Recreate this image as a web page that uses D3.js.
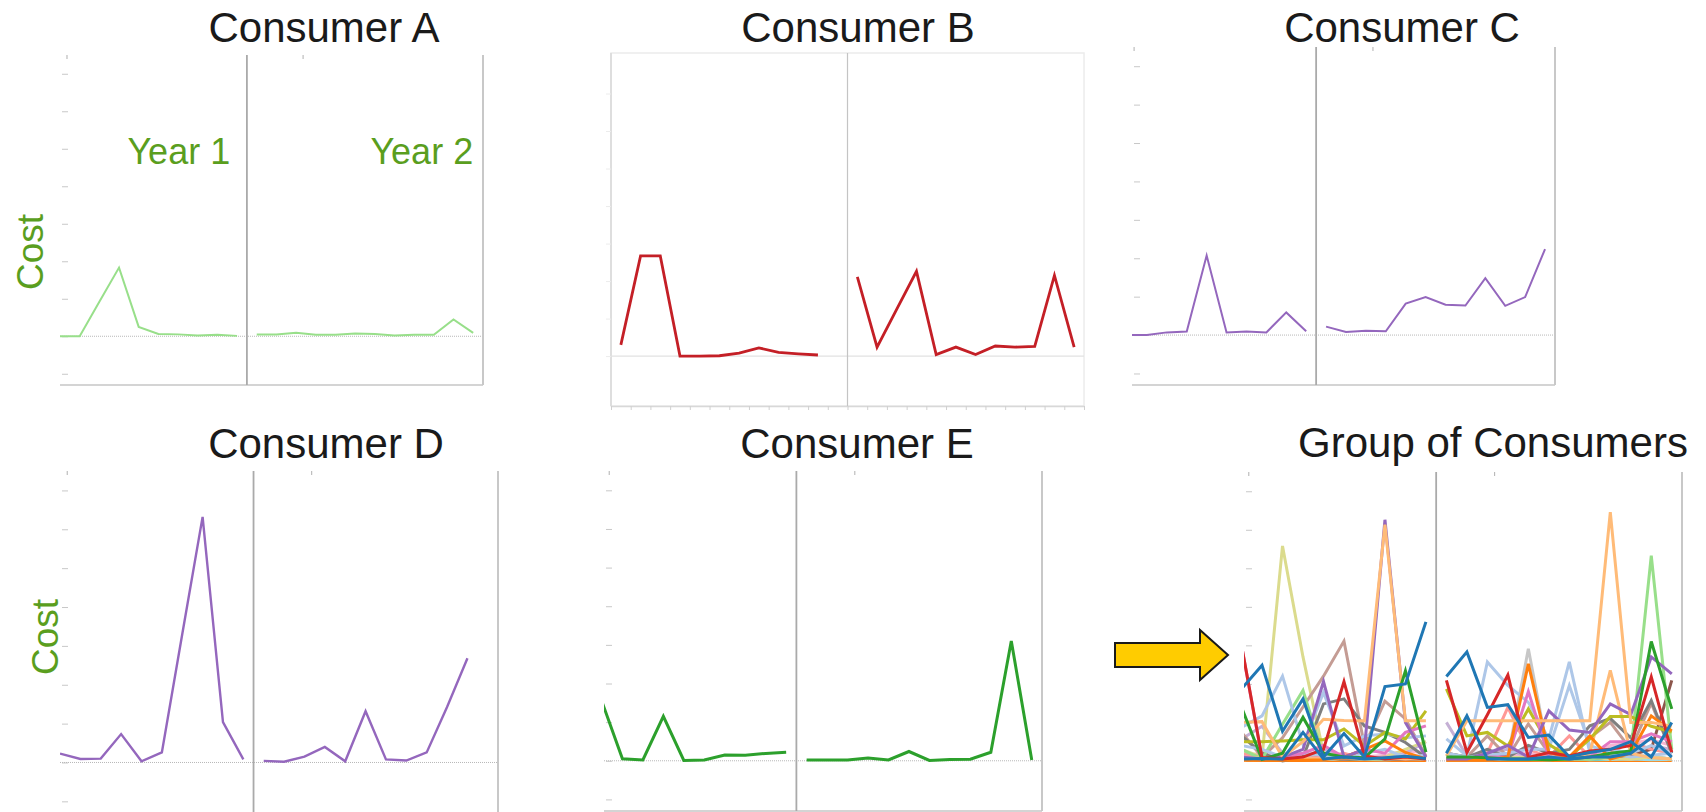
<!DOCTYPE html>
<html>
<head>
<meta charset="utf-8">
<script src="https://cdn.jsdelivr.net/npm/d3@7"></script>
<style>
body{margin:0;background:#fff}
svg{display:block}
</style>
</head>
<body>
<script>
// Monthly cost, one gridline step = 100. Months 0..11 are year 1, 12..23 are year 2.
// The screenshots cut year 1 off on the left, so each series keeps its first visible month.
const tickValues = [-100, 0, 100, 200, 300, 400, 500, 600, 700];

const aStart1 = 2;
const aYear1 = [0, 0, 92, 183, 25, 6, 5, 2, 4, 1];
const aYear2 = [5, 5, 9, 4, 4, 7, 6, 2, 4, 4, 45, 9];

const bStart1 = 0;
const bYear1 = [30, 267, 267, 0, 0, 1, 8, 22, 10, 6, 3];
const bYear2 = [211, 24, 125, 226, 4, 24, 4, 27, 24, 26, 215, 24];

const cStart1 = 2;
const cYear1 = [0, 0, 7, 9, 207, 7, 9, 7, 59, 10];
const cYear2 = [22, 8, 11, 10, 82, 99, 79, 77, 148, 76, 99, 224];

const dStart1 = 2;
const dYear1 = [23, 9, 10, 73, 3, 26, 330, 632, 104, 8];
const dYear2 = [4, 2, 15, 40, 3, 132, 8, 5, 26, 143, 268];

const eStart1 = 2;
const eYear1 = [153, 5, 2, 115, 1, 2, 15, 14, 19, 22];
const eYear2 = [2, 2, 2, 7, 2, 24, 1, 3, 4, 22, 310, 2];

// group of consumers (year 1 from month 2)
const groupStart1 = 2;
const groupColors = ["#ff7f0e","#9edae5","#17becf","#f7b6d2","#c7c7c7","#c5b0d5","#dbdb8d","#8c564b",
  "#ff9896","#c49c94","#7f7f7f","#98df8a","#aec7e8","#aec7e8","#ffbb78","#bcbd22",
  "#e377c2","#ff7f0e","#9467bd","#ffbb78","#2ca02c","#d62728","#1f77b4","#1f77b4"];
const groupYear1 = [
  [2,1,1,1,2,1,1,1,1,1],
  [5,3,8,4,3,6,4,3,5,4],
  [12,8,10,14,8,5,6,9,5,6],
  [10,22,6,5,12,5,10,15,26,22],
  [10,5,5,12,20,10,5,10,6,5],
  [57,90,20,10,30,10,5,10,20,50],
  [30,10,558,270,20,10,5,10,30,50],
  [5,6,4,5,8,5,6,5,4,5],
  [20,10,5,5,10,20,5,10,5,10],
  [74,10,60,140,220,311,39,155,109,13],
  [65,20,0,9,148,161,91,74,48,9],
  [30,5,95,183,13,10,5,5,10,10],
  [87,117,220,43,178,39,65,70,60,65],
  [40,30,10,20,15,10,20,30,10,15],
  [5,8,5,6,5,8,5,6,5,5],
  [50,50,52,55,55,83,39,74,57,130],
  [300,5,10,20,40,10,30,20,74,91],
  [3,2,2,2,3,10,30,52,22,5],
  [10,5,10,30,206,10,30,626,100,10],
  [100,102,10,50,108,105,104,613,104,104],
  [139,4,20,113,20,10,8,57,234,23],
  [300,9,5,10,30,206,13,5,10,5],
  [5,6,5,74,5,10,5,8,12,6],
  [187,248,77,161,10,71,10,193,200,361]
];
const groupYear2 = [
  [1,1,1,1,1,1,1,1,1,1,1,1],
  [3,4,3,5,4,3,6,3,4,5,3,4],
  [6,5,8,5,4,6,5,4,6,8,10,5],
  [8,6,10,12,20,8,5,10,40,45,55,40],
  [5,5,6,10,291,10,5,5,10,5,12,5],
  [100,13,20,30,10,20,10,20,30,10,40,30],
  [5,5,5,8,10,5,5,5,6,5,10,5],
  [5,4,5,6,5,8,5,6,10,15,30,209],
  [5,10,20,139,30,10,65,10,20,50,30,20],
  [20,10,65,10,96,20,10,60,100,30,150,20],
  [20,10,30,10,40,20,30,91,110,60,157,20],
  [5,5,5,5,5,5,5,5,10,20,533,30],
  [57,13,257,196,152,57,257,22,30,20,40,20],
  [20,10,15,20,30,30,196,40,20,10,15,20],
  [5,6,5,5,8,5,6,20,235,20,8,5],
  [187,65,74,39,135,43,10,57,115,115,90,75],
  [5,5,10,10,180,10,5,10,50,50,70,50],
  [2,2,2,10,252,22,10,65,5,20,117,78],
  [5,5,20,40,10,130,80,74,148,120,270,226],
  [13,104,104,104,104,104,104,104,646,100,100,90],
  [10,10,8,5,5,3,5,10,20,26,310,135],
  [209,22,120,223,9,22,13,26,30,40,218,23],
  [20,117,5,5,5,10,5,10,10,20,60,10],
  [219,283,139,146,61,67,11,22,30,50,10,100]
];

const W = 1706, H = 812;
const green = "#5a9e1e";
const svg = d3.select("body").append("svg").attr("width", W).attr("height", H);

function toPoints(values, start) {
  return values.map((v, i) => ({m: start + i, v: v}));
}

// draw one small-multiple panel
function drawPanel(cfg, series) {
  const x = d3.scaleLinear().domain([cfg.m0, 23.5]).range([cfg.left, cfg.right]);
  const y = d3.scaleLinear().domain(cfg.yDomain).range([cfg.bottom, cfg.top]);
  const g = svg.append("g");

  g.append("text")
    .attr("x", cfg.titleX).attr("y", cfg.titleY)
    .attr("text-anchor", "middle")
    .style("font-family", "'Liberation Sans', Arial, sans-serif")
    .style("font-size", "42px").style("fill", "#1a1a1a")
    .text(cfg.title);

  if (cfg.style === "b") {
    // older screenshot style: faint frame, bottom ticks
    g.append("rect").attr("x", cfg.left).attr("y", cfg.top)
      .attr("width", cfg.right - cfg.left).attr("height", cfg.bottom - cfg.top)
      .attr("fill", "none").attr("stroke", "#ececec").attr("stroke-width", 1.5);
    g.append("line").attr("x1", cfg.left).attr("x2", cfg.left)
      .attr("y1", cfg.top).attr("y2", cfg.bottom)
      .attr("stroke", "#d8d8d8").attr("stroke-width", 1.5);
    const ya = g.append("g").attr("transform", `translate(${cfg.left},0)`)
      .call(d3.axisLeft(y).tickValues(tickValues.slice(1)).tickSize(5).tickFormat(""));
    ya.select(".domain").remove();
    ya.selectAll("line").attr("stroke", "#ececec");
    const xa = g.append("g").attr("transform", `translate(0,${cfg.bottom})`)
      .call(d3.axisBottom(x).tickValues(d3.range(-0.5, 24, 1)).tickSize(4).tickFormat("").tickSizeOuter(0));
    xa.select(".domain").attr("stroke", "#d8d8d8").attr("stroke-width", 1.5);
    xa.selectAll("line").attr("stroke", "#d0d0d0");
    g.append("line").attr("x1", cfg.left).attr("x2", cfg.right)
      .attr("y1", y(0)).attr("y2", y(0))
      .attr("stroke", "#e2e2e2").attr("stroke-width", 1.2);
    g.append("line").attr("x1", x(11.5)).attr("x2", x(11.5))
      .attr("y1", cfg.top).attr("y2", cfg.bottom)
      .attr("stroke", "#c4c4c4").attr("stroke-width", 1.2);
  } else {
    const ya = g.append("g").attr("transform", `translate(${cfg.left + 8},0)`)
      .call(d3.axisLeft(y).tickValues(tickValues).tickSize(6).tickFormat(""));
    ya.select(".domain").remove();
    ya.selectAll("line").attr("stroke", "#c8c8c8");
    const ta = g.append("g").attr("transform", `translate(0,${cfg.top})`)
      .call(d3.axisBottom(x).tickValues([2.33, 14.33]).tickSize(4).tickFormat(""));
    ta.select(".domain").remove();
    ta.selectAll("line").attr("stroke", "#b0b0b0");
    g.append("line").attr("x1", cfg.left).attr("x2", cfg.right)
      .attr("y1", y(0)).attr("y2", y(0))
      .attr("stroke", "#b8b8b8").attr("stroke-width", 1).attr("stroke-dasharray", "1,1");
    g.append("line").attr("x1", cfg.left).attr("x2", cfg.right)
      .attr("y1", cfg.bottom).attr("y2", cfg.bottom)
      .attr("stroke", "#d4d4d4").attr("stroke-width", 2);
    g.append("line").attr("x1", x(23.5)).attr("x2", x(23.5))
      .attr("y1", cfg.top).attr("y2", cfg.bottom)
      .attr("stroke", "#c8c8c8").attr("stroke-width", 2);
    g.append("line").attr("x1", x(11.5)).attr("x2", x(11.5))
      .attr("y1", cfg.top).attr("y2", cfg.bottom)
      .attr("stroke", "#aaaaaa").attr("stroke-width", 1.8);
  }

  const clipId = "clip" + cfg.title.replace(/\s/g, "");
  svg.append("clipPath").attr("id", clipId).append("rect")
    .attr("x", cfg.left).attr("y", cfg.top)
    .attr("width", cfg.right - cfg.left).attr("height", cfg.bottom - cfg.top);

  const line = d3.line().x(d => x(d.m)).y(d => y(d.v));
  const lines = g.append("g").attr("clip-path", `url(#${clipId})`);
  series.forEach(s => {
    [s.year1, s.year2].forEach(pts => {
      lines.append("path").datum(pts)
        .attr("d", line)
        .attr("fill", "none")
        .attr("stroke", s.color)
        .attr("stroke-width", cfg.lineWidth)
        .attr("stroke-linejoin", "miter");
    });
  });
  return {x, y};
}

const pA = drawPanel({title: "Consumer A", titleX: 324, titleY: 42, left: 60, right: 483, top: 55, bottom: 385,
  m0: 2, yDomain: [-130, 750], lineWidth: 2},
  [{color: "#98df8a", year1: toPoints(aYear1, aStart1), year2: toPoints(aYear2, 12)}]);

drawPanel({title: "Consumer B", titleX: 858, titleY: 42, left: 611, right: 1084, top: 53, bottom: 406,
  m0: -0.5, yDomain: [-133, 808], lineWidth: 2.8, style: "b"},
  [{color: "#c41f26", year1: toPoints(bYear1, bStart1), year2: toPoints(bYear2, 12)}]);

drawPanel({title: "Consumer C", titleX: 1402, titleY: 42, left: 1132, right: 1555, top: 47, bottom: 385,
  m0: 2.25, yDomain: [-130, 750], lineWidth: 2},
  [{color: "#9467bd", year1: toPoints(cYear1, cStart1), year2: toPoints(cYear2, 12)}]);

drawPanel({title: "Consumer D", titleX: 326, titleY: 458, left: 60, right: 498, top: 471, bottom: 813,
  m0: 2, yDomain: [-130, 750], lineWidth: 2.4},
  [{color: "#9467bd", year1: toPoints(dYear1, dStart1), year2: toPoints(dYear2, 12)}]);

drawPanel({title: "Consumer E", titleX: 857, titleY: 458, left: 604, right: 1042, top: 471, bottom: 811,
  m0: 2.1, yDomain: [-130, 750], lineWidth: 3},
  [{color: "#2ca02c", year1: toPoints(eYear1, eStart1), year2: toPoints(eYear2, 12)}]);

drawPanel({title: "Group of Consumers", titleX: 1493, titleY: 457, left: 1244, right: 1682, top: 472, bottom: 811,
  m0: 2.12, yDomain: [-130, 750], lineWidth: 3},
  groupColors.map((c, i) => ({color: c, year1: toPoints(groupYear1[i], groupStart1), year2: toPoints(groupYear2[i], 12)})));

// labels
const labelFont = "'Liberation Sans', Arial, sans-serif";
svg.append("text").attr("x", pA.x(10.65)).attr("y", 164).attr("text-anchor", "end")
  .style("font-family", labelFont).style("font-size", "36px").style("fill", green).text("Year 1");
svg.append("text").attr("x", pA.x(23.0)).attr("y", 164).attr("text-anchor", "end")
  .style("font-family", labelFont).style("font-size", "36px").style("fill", green).text("Year 2");
[[43, 252], [58, 637]].forEach(p => {
  svg.append("text").attr("transform", `translate(${p[0]},${p[1]}) rotate(-90)`)
    .attr("text-anchor", "middle")
    .style("font-family", labelFont).style("font-size", "37px").style("fill", green).text("Cost");
});

// yellow arrow pointing to the group panel
svg.append("polygon")
  .attr("points", "1115,643 1200,643 1200,630 1228,655 1200,680 1200,667 1115,667")
  .attr("fill", "#ffcc00").attr("stroke", "#1a1a1a").attr("stroke-width", 2);
</script>
</body>
</html>
